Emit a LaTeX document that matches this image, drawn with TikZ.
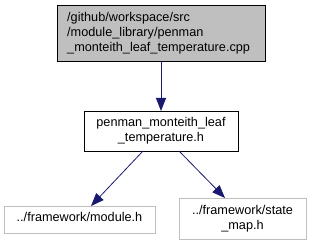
\documentclass[tikz,border=0pt]{standalone}
\usepackage{fontspec}
\setmainfont{Liberation Sans}
\usetikzlibrary{arrows.meta}
\definecolor{edgeblue}{HTML}{191970}
\definecolor{boxgray}{HTML}{BFBFBF}
\definecolor{lightborder}{HTML}{BFBFBF}
\tikzset{
  fbox/.style={draw=black, line width=0.8pt, inner sep=0pt},
  gbox/.style={draw=lightborder, line width=0.8pt, inner sep=0pt},
  edge/.style={draw=edgeblue, line width=0.8pt, -{Triangle[length=13pt,width=10pt]}},
  txt/.style={font=\fontsize{12.7}{15}\selectfont, inner sep=0pt}
}
\begin{document}
\begin{tikzpicture}[x=1pt,y=-1pt]
\useasboundingbox (0,0) rectangle (311,245);
% top box
\node[fbox, fill=boxgray, minimum width=208pt, minimum height=56pt, anchor=north west] (top) at (57,5) {};
\node[txt, align=left, anchor=base west] (toptxt) at (67,52) {/github/workspace/src\\/module\_library/penman\\\_monteith\_leaf\_temperature.cpp};
% middle box
\node[fbox, minimum width=154pt, minimum height=40pt, anchor=north west] (mid) at (84,111) {};
\node[txt, align=center, anchor=base] (midtxt) at (161,142) {penman\_monteith\_leaf\\\_temperature.h};
% bottom left
\node[gbox, minimum width=151pt, minimum height=27pt, anchor=north west] (bl) at (4,206) {};
\node[txt, align=center, anchor=base] (bltxt) at (79.5,222) {../framework/module.h};
% bottom right
\node[gbox, minimum width=127pt, minimum height=41pt, anchor=north west] (br) at (179,198) {};
\node[txt, align=center, anchor=base] (brtxt) at (242.5,230) {../framework/state\\\_map.h};
% edges
\coordinate (t1) at (161,61);
\coordinate (m1) at (161,111);
\coordinate (m2) at (143,151);
\coordinate (b1) at (91,206);
\coordinate (m3) at (179,151);
\coordinate (b2) at (225,198);
\draw[edge] (top.south -| t1) -- (mid.north -| m1);
\draw[edge] (m2) -- (b1);
\draw[edge] (m3) -- (b2);
\end{tikzpicture}
\end{document}
